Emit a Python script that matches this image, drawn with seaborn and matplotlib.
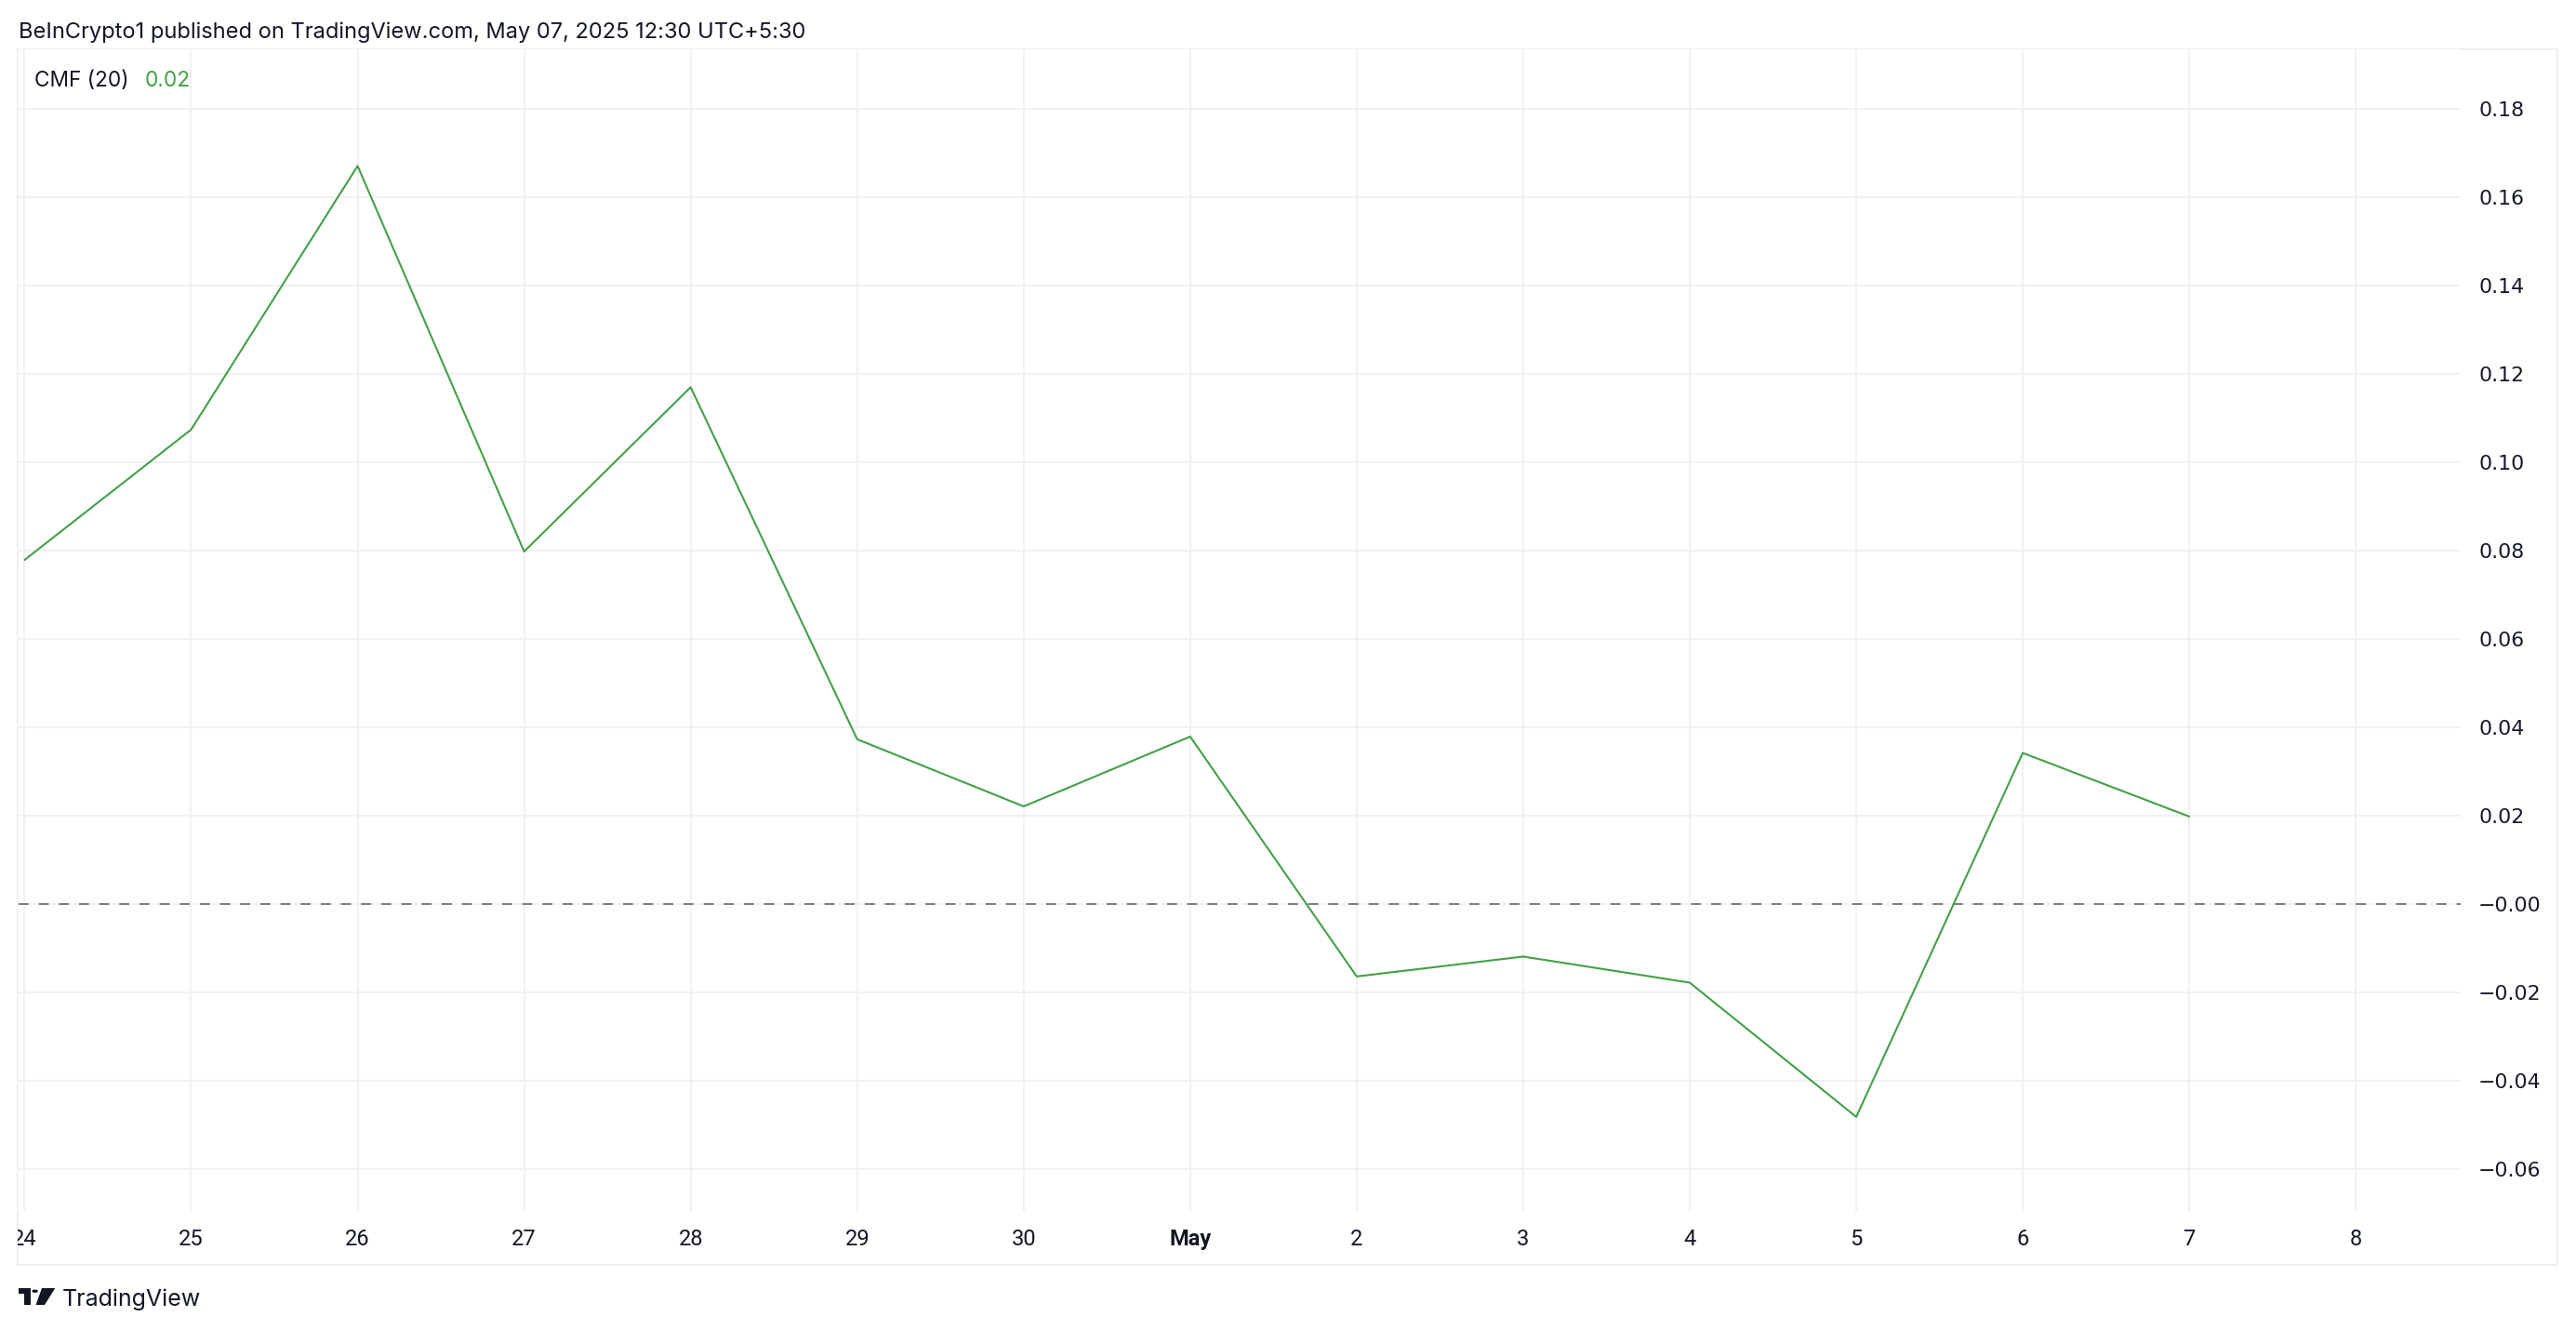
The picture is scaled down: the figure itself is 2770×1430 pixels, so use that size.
import numpy as np
import pandas as pd
import matplotlib
matplotlib.use("Agg")
import matplotlib.pyplot as plt
import matplotlib.dates as mdates
from matplotlib.patches import Polygon, Circle, Rectangle
from matplotlib.transforms import Bbox
import seaborn as sns

# ---------------- data ----------------
dates = ["2025-04-24", "2025-04-25", "2025-04-26", "2025-04-27", "2025-04-28",
         "2025-04-29", "2025-04-30", "2025-05-01", "2025-05-02", "2025-05-03",
         "2025-05-04", "2025-05-05", "2025-05-06", "2025-05-07"]
cmf = [0.0779, 0.1074, 0.1671, 0.0798, 0.1170, 0.0373, 0.0221, 0.0379,
       -0.0164, -0.0119, -0.0178, -0.0482, 0.0342, 0.0198]
tick_dates = ["2025-04-24", "2025-04-25", "2025-04-26", "2025-04-27", "2025-04-28",
              "2025-04-29", "2025-04-30", "2025-05-01", "2025-05-02", "2025-05-03",
              "2025-05-04", "2025-05-05", "2025-05-06", "2025-05-07", "2025-05-08"]
tick_labels = ["24", "25", "26", "27", "28", "29", "30", "May", "2", "3", "4", "5", "6", "7", "8"]
y_ticks = [-0.06, -0.04, -0.02, 0.00, 0.02, 0.04, 0.06, 0.08, 0.10, 0.12, 0.14, 0.16, 0.18]
y_tick_labels = ["\u22120.06", "\u22120.04", "\u22120.02", "\u22120.00", "0.02", "0.04", "0.06",
                 "0.08", "0.10", "0.12", "0.14", "0.16", "0.18"]
header = "BeInCrypto1 published on TradingView.com, May 07, 2025 12:30 UTC+5:30"
ind_name = "CMF (20)"
ind_value = "0.02"

df = pd.DataFrame({"date": pd.to_datetime(dates), "cmf": cmf})

# ---------------- style ----------------
W, H = 2770, 1430
DPI = 100
sns.set_theme(style="white")
plt.rcParams["font.family"] = ["Roboto", "DejaVu Sans"]
plt.rcParams["lines.scale_dashes"] = False

GREEN = "#43a047"
TEXT = "#131722"
GRID = "#f0f1f3"
UI_FONT = ["Inter", "DejaVu Sans"]

fig = plt.figure(figsize=(W / DPI, H / DPI), dpi=DPI)
fig.patch.set_facecolor("white")

def fx(x):
    return x / W

def fy(y):
    return 1 - y / H

left, right, top, bottom = 20, 2646, 53, 1303
ax = fig.add_axes([fx(left), fy(bottom), fx(right) - fx(left), fy(top) - fy(bottom)])
ax.set_facecolor("white")

sns.lineplot(data=df, x="date", y="cmf", ax=ax, color=GREEN, linewidth=1.5)

ax.axhline(0, color="#787b86", linewidth=1.4, linestyle=(0, (7.7, 7.9)), zorder=1)

start = pd.Timestamp("2025-04-24")
ax.set_xlim(start - pd.Timedelta(days=0.036), start + pd.Timedelta(days=14.63))
ax.set_ylim(-0.0697, 0.1935)

ax.set_xticks(pd.to_datetime(tick_dates))
ax.set_xticklabels(tick_labels)
clip_bb = Bbox.from_extents(19, 0, W, H)  # display pixels (origin bottom-left)
for lbl in ax.get_xticklabels():
    lbl.set_fontsize(17)
    lbl.set_color(TEXT)
    lbl.set_family(["Roboto", "DejaVu Sans"])
    if lbl.get_text() == "May":
        lbl.set_fontweight("bold")
    lbl.set_clip_on(True)
    lbl.set_clip_box(clip_bb)

ax.yaxis.tick_right()
ax.set_yticks(y_ticks)
ax.set_yticklabels(y_tick_labels)
for lbl in ax.get_yticklabels():
    lbl.set_fontsize(15.8)
    lbl.set_color(TEXT)
    lbl.set_family(["DejaVu Sans"])

ax.tick_params(axis="x", length=0, pad=13)
ax.tick_params(axis="y", length=0, pad=13.7)
ax.set_xlabel("")
ax.set_ylabel("")
ax.grid(True, color=GRID, linewidth=1.4)
ax.set_axisbelow(True)
for s in ax.spines.values():
    s.set_visible(False)

# outer frame
fig.add_artist(Rectangle((fx(19), fy(1360)), fx(2750) - fx(19), fy(53) - fy(1360),
                         transform=fig.transFigure, fill=False, edgecolor="#eeeff1",
                         linewidth=1.5, zorder=0))

# texts
fig.text(fx(20), fy(40.7), header, fontsize=17, color=TEXT, va="baseline", ha="left",
         family=UI_FONT)
fig.text(fx(37), fy(93), ind_name, fontsize=16.3, color=TEXT, va="baseline", ha="left",
         family=UI_FONT)
fig.text(fx(156), fy(93), ind_value, fontsize=16.3, color=GREEN, va="baseline", ha="left",
         family=UI_FONT)
fig.text(fx(67), fy(1404), "TradingView", fontsize=18, color=TEXT, va="baseline", ha="left",
         family=UI_FONT)

# TradingView logo
logo_col = "#131722"
tbar = [(20, 1385), (33.3, 1385), (33.3, 1403), (26, 1403), (26, 1390.7), (20, 1390.7)]
fig.add_artist(Polygon([(fx(x), fy(y)) for x, y in tbar], closed=True,
                       transform=fig.transFigure, facecolor=logo_col, edgecolor="none"))
fig.add_artist(Circle((fx(37.6), fy(1388.2)), 3.3 / W, transform=fig.transFigure,
                      facecolor=logo_col, edgecolor="none"))
slash = [(45, 1385), (59.3, 1385), (48, 1403), (38.5, 1403)]
fig.add_artist(Polygon([(fx(x), fy(y)) for x, y in slash], closed=True,
                       transform=fig.transFigure, facecolor=logo_col, edgecolor="none"))

fig.savefig("out.png", dpi=DPI, facecolor="white")
